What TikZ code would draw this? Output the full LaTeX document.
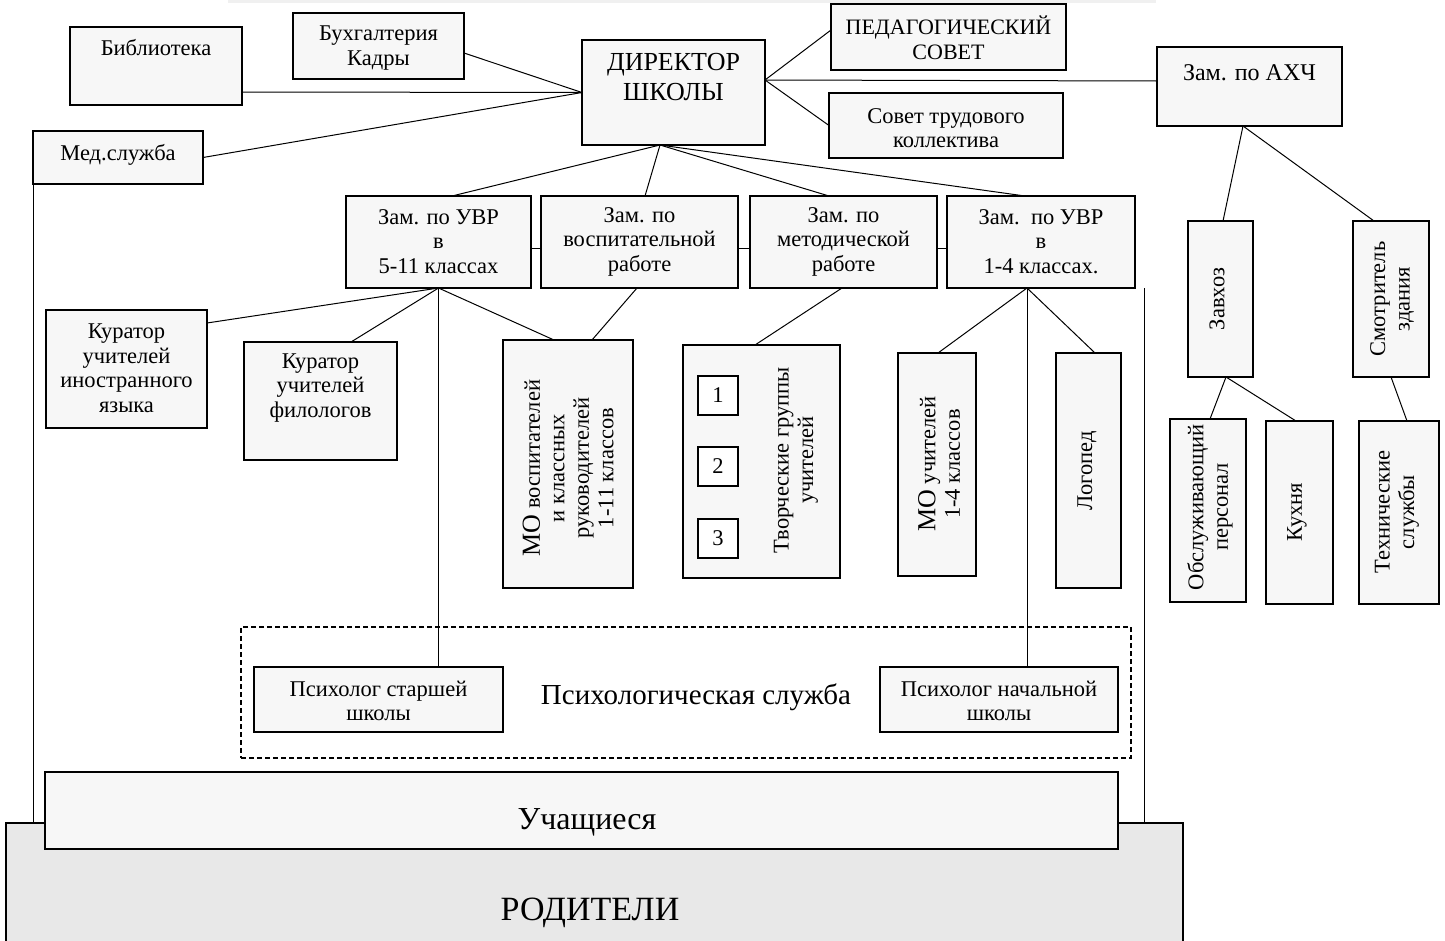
\documentclass[tikz,border=0pt]{standalone}
\usepackage{fontspec}
\setmainfont{Liberation Serif}
\newcommand\fsN{\fontsize{22.5}{24.5}\selectfont}
\newcommand\fsBig{\fontsize{26}{30}\selectfont}
\newcommand\fsMO{\fontsize{26}{26}\selectfont}
\definecolor{boxfill}{HTML}{F7F7F7}
\definecolor{rodfill}{HTML}{E8E8E8}
\begin{document}
\begin{tikzpicture}[x=1pt,y=-1pt,
  box/.style={draw=black, line width=1.3pt, fill=boxfill, inner sep=0pt, outer sep=0pt},
  wbox/.style={draw=black, line width=1.1pt, fill=white, inner sep=0pt, outer sep=0pt, font=\fsN},
  txt/.style={inner sep=0pt, align=center, font=\fsN},
  conn/.style={line width=1pt, draw=black},
  frame/.style={draw=black, line width=1.2pt, dash pattern=on 5pt off 3pt, inner sep=0pt}]
\useasboundingbox (0,0) rectangle (1445,940);
\fill[black!6] (228,0) rectangle (1156,3);

% bottom layers
\node[box, fill=rodfill, minimum width=1177pt, minimum height=119pt] (rod) at (594.5,882.5) {};
\node[txt, font=\fontsize{34}{38}\selectfont] (rodT) at (590,913) {РОДИТЕЛИ};

% boxes
\node[box, minimum width=172pt, minimum height=78pt] (bib) at (156,66) {};
\node[box, minimum width=171pt, minimum height=66pt] (buh) at (378.5,46) {};
\node[box, minimum width=183pt, minimum height=105pt] (dir) at (673.5,92.5) {};
\node[box, minimum width=235pt, minimum height=66pt] (ped) at (948.5,37) {};
\node[box, minimum width=234pt, minimum height=65pt] (sov) at (946,125.5) {};
\node[box, minimum width=185pt, minimum height=79pt] (ahch) at (1249.5,86.5) {};
\node[box, minimum width=170pt, minimum height=53pt] (med) at (118,157.5) {};

\node[box, minimum width=185pt, minimum height=92pt] (uvr1) at (438.5,242) {};
\node[box, minimum width=197pt, minimum height=92pt] (vosp) at (639.5,242) {};
\node[box, minimum width=187pt, minimum height=92pt] (met) at (843.5,242) {};
\node[box, minimum width=188pt, minimum height=92pt] (uvr2) at (1041,242) {};

\node[box, minimum width=161pt, minimum height=118pt] (kur1) at (126.5,369) {};
\node[box, minimum width=153pt, minimum height=118pt] (kur2) at (320.5,401) {};
\node[box, minimum width=130pt, minimum height=248pt] (mov) at (568,464) {};
\node[box, minimum width=157pt, minimum height=233pt] (tvor) at (761.5,461.5) {};
\node[wbox, minimum width=40pt, minimum height=39pt] (g1) at (718,395.5) {1};
\node[wbox, minimum width=40pt, minimum height=39pt] (g2) at (718,466.5) {2};
\node[wbox, minimum width=40pt, minimum height=39pt] (g3) at (718,538.5) {3};
\node[box, minimum width=78pt, minimum height=223pt] (mou) at (937,464.5) {};
\node[box, minimum width=65pt, minimum height=235pt] (log) at (1088.5,470.5) {};

\node[box, minimum width=65pt, minimum height=156pt] (zav) at (1220.5,299) {};
\node[box, minimum width=76pt, minimum height=156pt] (smo) at (1391,299) {};
\node[box, minimum width=76pt, minimum height=183pt] (obs) at (1208,510.5) {};
\node[box, minimum width=67pt, minimum height=183pt] (kuh) at (1299.5,512.5) {};
\node[box, minimum width=80pt, minimum height=183pt] (teh) at (1399,512.5) {};

\node[frame, minimum width=890pt, minimum height=131pt] (psyframe) at (686,692.5) {};
\node[box, minimum width=249pt, minimum height=65pt] (ps1) at (378.5,699.5) {};
\node[box, minimum width=238pt, minimum height=65pt] (ps2) at (999,699.5) {};

% hub coordinates
\coordinate (dirR) at ([yshift=12.5pt]dir.east);
\coordinate (dirB) at ([xshift=-13.5pt]dir.south);
\coordinate (ahchB) at ([xshift=-6.5pt]ahch.south);
\coordinate (zavB) at ([xshift=5.5pt]zav.south);
\coordinate (uvrB) at (uvr1.south);
\coordinate (uvr2B) at ([xshift=-14pt]uvr2.south);
\coordinate (rtop) at (1144,288);

% connectors
\draw[conn] ([yshift=-7pt]buh.east) -- (dir.west);
\draw[conn] ([yshift=-26pt]bib.east) -- (dir.west);
\draw[conn] (med.east) -- (dir.west);
\draw[conn] (dirR) -- ([yshift=7pt]ped.west);
\draw[conn] (dirR) -- ([yshift=5.5pt]ahch.west);
\draw[conn] (dirR) -- (sov.west);
\draw[conn] (dirB) -- ([xshift=13.5pt]uvr1.north);
\draw[conn] (dirB) -- ([xshift=5.5pt]vosp.north);
\draw[conn] (dirB) -- ([xshift=-14.5pt]met.north);
\draw[conn] (dirB) -- ([xshift=-16pt]uvr2.north);
\draw[conn] ([yshift=-6pt]uvr1.east) -- ([yshift=-6pt]vosp.west);
\draw[conn] ([yshift=-6pt]vosp.east) -- ([yshift=-6pt]met.west);
\draw[conn] ([yshift=-6pt]met.east) -- ([yshift=-6pt]uvr2.west);
\draw[conn] (ahchB) -- ([xshift=2.5pt]zav.north);
\draw[conn] (ahchB) -- ([xshift=-17pt]smo.north);
\draw[conn] (zavB) -- ([xshift=2pt]obs.north);
\draw[conn] (zavB) -- ([xshift=-3.5pt]kuh.north);
\draw[conn] (smo.south) -- ([xshift=8pt]teh.north);
\draw[conn] (uvrB) -- ([yshift=46pt]kur1.east);
\draw[conn] (uvrB) -- ([xshift=30.5pt]kur2.north);
\draw[conn] (uvrB) -- ([xshift=-14pt]mov.north);
\draw[conn] (uvrB) -- (uvrB |- ps1.north);
\draw[conn] ([xshift=-2.5pt]vosp.south) -- ([xshift=24pt]mov.north);
\draw[conn] ([xshift=-1.5pt]met.south) -- ([xshift=-6.5pt]tvor.north);
\draw[conn] (uvr2B) -- ([xshift=1pt]mou.north);
\draw[conn] (uvr2B) -- (uvr2B |- ps2.north);
\draw[conn] (uvr2B) -- ([xshift=6.5pt]log.north);
\draw[conn] (med.south west) -- (med.south west |- rod.north);
\draw[conn] (rtop) -- (rtop |- rod.north);

\node[box, minimum width=1073pt, minimum height=77pt] (uch) at (581.5,810.5) {};

% texts
\node[txt] (bibT) at (156,48) {Библиотека};
\node[txt] (buhT) at (378.5,48) {Бухгалтерия\\Кадры};
\node[txt, font=\fsBig] (dirT) at (673.5,77.5) {ДИРЕКТОР\\ШКОЛЫ};
\node[txt, font=\fontsize{22}{25}\selectfont] (pedT) at (948.5,37.5) {ПЕДАГОГИЧЕСКИЙ\\СОВЕТ};
\node[txt] (sovT) at (946,128) {Совет трудового\\коллектива};
\node[txt, font=\fontsize{24}{28}\selectfont] (ahchT) at (1249.5,73) {Зам. по АХЧ};
\node[txt] (medT) at (118,155) {Мед.служба};
\node[txt] (uvr1T) at (438.5,241.5) {Зам. по УВР\\в\\5-11 классах};
\node[txt] (vospT) at (639.5,241.5) {Зам. по\\воспитательной\\работе};
\node[txt] (metT) at (843.5,241.5) {Зам. по\\методической\\работе};
\node[txt] (uvr2T) at (1041,241.5) {Зам.\ \ по УВР\\в\\1-4 классах.};
\node[txt] (kur1T) at (126.5,368) {Куратор\\учителей\\иностранного\\языка};
\node[txt] (kur2T) at (320.5,388) {Куратор\\учителей\\филологов};
\node[txt, rotate=90] (movT) at (568,468) {{\fsMO МО} воспитателей\\и классных\\руководителей\\1-11 классов};
\node[txt, rotate=90] (tvorT) at (796,460) {Творческие группы\\учителей};
\node[txt, rotate=90] (mouT) at (939,464) {{\fsMO МО} учителей\\1-4 классов};
\node[txt, rotate=90] (logT) at (1087,471) {Логопед};
\node[txt, rotate=90] (zavT) at (1217,299) {Завхоз};
\node[txt, rotate=90] (smoT) at (1392,299) {Смотритель\\здания};
\node[txt, rotate=90] (obsT) at (1210,507) {Обслуживающий\\персонал};
\node[txt, rotate=90] (kuhT) at (1297,512) {Кухня};
\node[txt, rotate=90] (tehT) at (1397,512) {Технические\\службы};
\node[txt] (ps1T) at (378.5,701) {Психолог старшей\\школы};
\node[txt] (ps2T) at (999,701) {Психолог начальной\\школы};
\node[txt, font=\fontsize{29}{32}\selectfont] (psyT) at (696,697) {Психологическая служба};
\node[txt, font=\fontsize{32}{36}\selectfont] (uchT) at (587,822) {Учащиеся};
\end{tikzpicture}
\end{document}
